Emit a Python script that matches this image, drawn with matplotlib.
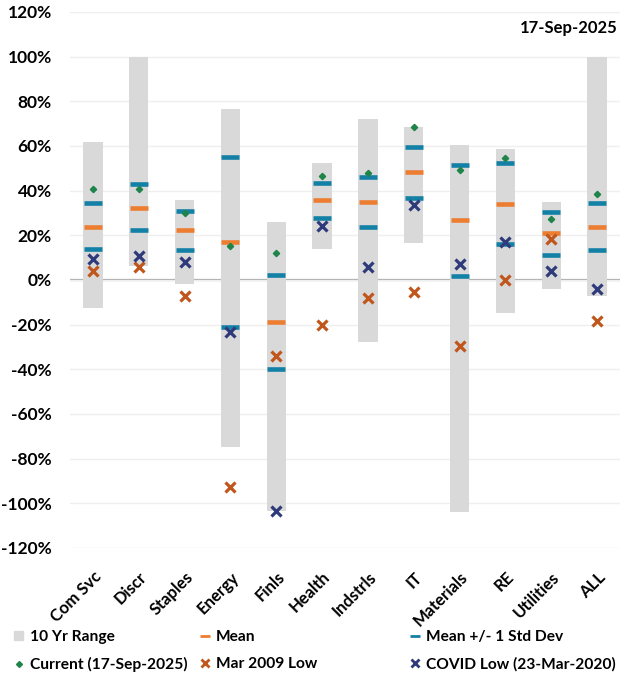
import matplotlib.pyplot as plt
import numpy as np
from matplotlib.lines import Line2D
from matplotlib.patches import Patch

SECTORS = ['Com Svc', 'Discr', 'Staples', 'Energy', 'Finls', 'Health',
           'Indstrls', 'IT', 'Materials', 'RE', 'Utilities', 'ALL']

range_hi = [61.8, 100.0, 35.7, 76.6, 26.0, 52.4, 72.0, 68.5, 60.5, 58.7, 35.0, 100.0]
range_lo = [-12.5, 6.3, -2.0, -74.8, -103.4, 13.9, -27.8, 16.5, -103.9, -14.8, -4.2, -7.0]
mean = [23.7, 32.3, 22.5, 17.0, -18.8, 35.7, 34.9, 48.4, 26.9, 33.9, 21.2, 23.9]
std_hi = [34.5, 42.9, 31.0, 55.0, 2.3, 43.4, 46.1, 59.7, 51.4, 52.2, 30.6, 34.7]
std_lo = [14.0, 22.5, 13.5, -21.0, -39.9, 27.8, 23.8, 36.7, 1.9, 16.0, 11.2, 13.6]
current = [40.8, 40.8, 30.0, 15.3, 12.0, 46.6, 47.9, 68.5, 49.3, 54.5, 27.2, 38.5]
mar_2009 = [4.0, 5.8, -7.0, -92.7, -34.0, -20.0, -8.0, -5.4, -29.6, 0.0, 18.5, -18.2]
covid_low = [9.4, 10.8, 8.0, -23.3, -103.4, 24.2, 5.8, 33.6, 7.2, 17.1, 4.0, -3.9]

GRAY = '#D9D9D9'
ORANGE = '#ED7D31'
BLUE = '#1380A6'
GREEN = '#1E8449'
BROWN = '#C0561B'
NAVY = '#2E3A7A'

plt.rcParams['font.family'] = ['Lato', 'DejaVu Sans']

fig = plt.figure(figsize=(6.32, 6.88), dpi=100)
ax = fig.add_axes([70 / 632, 1 - 548 / 688, 550 / 632, 536 / 688])

x = np.arange(len(SECTORS))
lo = np.array(range_lo)
hi = np.array(range_hi)
ax.bar(x, hi - lo, bottom=lo, width=0.42, color=GRAY, zorder=2)

ax.axhline(0, color='#A6A6A6', lw=1.6, zorder=1)

bar_ms = 13.5
ax.plot(x, std_hi, ls='none', marker='_', ms=bar_ms, mew=3.3, color=BLUE, zorder=3)
ax.plot(x, std_lo, ls='none', marker='_', ms=bar_ms, mew=3.3, color=BLUE, zorder=3)
ax.plot(x, mean, ls='none', marker='_', ms=bar_ms, mew=3.3, color=ORANGE, zorder=3)
ax.plot(x, current, ls='none', marker='D', ms=3.2, color=GREEN, zorder=5)
ax.plot(x, mar_2009, ls='none', marker='x', ms=7.5, mew=2.3, color=BROWN, zorder=4)
ax.plot(x, covid_low, ls='none', marker='x', ms=7.5, mew=2.3, color=NAVY, zorder=4)

ax.set_xlim(-0.5, len(SECTORS) - 0.5)
ax.set_ylim(-120, 120)
ax.set_yticks(np.arange(-120, 121, 20))
ax.set_yticklabels([f'{v}%' for v in range(-120, 121, 20)], fontsize=12.5, fontweight='bold')
ax.set_xticks(x)
ax.set_xticklabels(SECTORS, rotation=45, ha='right', rotation_mode='anchor',
                   fontsize=12, fontweight='bold')
ax.tick_params(axis='y', length=0, pad=13)
ax.tick_params(axis='x', length=0, pad=15)
ax.grid(axis='y', color='#EFEFEF', lw=1, zorder=0)
for s in ax.spines.values():
    s.set_visible(False)

ax.text(0.995, 0.985, '17-Sep-2025', transform=ax.transAxes, ha='right', va='top',
        fontsize=12, fontweight='bold')

handles = [
    [Patch(color=GRAY, label='10 Yr Range'),
     Line2D([], [], ls='none', marker='D', ms=3, color=GREEN, label='Current (17-Sep-2025)')],
    [Line2D([], [], ls='none', marker='_', ms=7, mew=2, color=ORANGE, label='Mean'),
     Line2D([], [], ls='none', marker='x', ms=6, mew=2, color=BROWN, label='Mar 2009 Low')],
    [Line2D([], [], ls='none', marker='_', ms=7, mew=2, color=BLUE, label='Mean +/- 1 Std Dev'),
     Line2D([], [], ls='none', marker='x', ms=6, mew=2, color=NAVY, label='COVID Low (23-Mar-2020)')],
]
lefts = [14, 200, 410]
for h, left in zip(handles, lefts):
    fig.legend(handles=h, loc='upper left', bbox_to_anchor=(left / 632, 1 - 630 / 688),
               frameon=False, prop={'weight': 'bold', 'size': 11.2},
               handlelength=0.6, handleheight=0.6, handletextpad=0.4, labelspacing=0.85,
               borderaxespad=0, borderpad=0)

fig.savefig('out.png', dpi=100)
